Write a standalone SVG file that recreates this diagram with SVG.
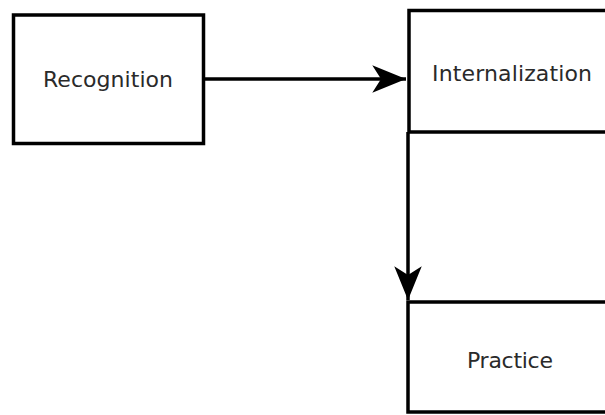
<svg xmlns="http://www.w3.org/2000/svg" width="605" height="415" viewBox="0 0 605 415">
  <style>
    .box { fill: #ffffff; stroke: #000000; stroke-width: 3.5; }
    .lbl { font-family: "DejaVu Sans", "Liberation Sans", sans-serif; font-size: 22px; fill: #2a2a2a; }
    .edge { stroke: #000000; stroke-width: 3.5; fill: none; }
  </style>
  <defs>
    <marker id="arrow" markerUnits="userSpaceOnUse" markerWidth="40" markerHeight="40" viewBox="-30 -15 32 30" refX="0" refY="0" orient="auto">
      <path d="M0,0 L-27,-11 L-20,0 L-27,11 Z" fill="#000000"/>
    </marker>
  </defs>
  <rect width="605" height="415" fill="#ffffff"/>
  <g id="recognition">
    <rect class="box" x="13.5" y="15" width="190" height="128.5"/>
    <text class="lbl" x="43" y="87" textLength="130">Recognition</text>
  </g>
  <g id="internalization">
    <rect class="box" x="409" y="10.5" width="210" height="121.5"/>
    <text class="lbl" x="432" y="81" textLength="160">Internalization</text>
  </g>
  <g id="practice">
    <rect class="box" x="408" y="302" width="210" height="110"/>
    <text class="lbl" x="467" y="368" textLength="86">Practice</text>
  </g>
  <g id="connectors">
    <line class="edge" x1="204" y1="79" x2="406" y2="79" marker-end="url(#arrow)"/>
    <line class="edge" x1="408" y1="132" x2="408" y2="300" marker-end="url(#arrow)"/>
  </g>
</svg>
